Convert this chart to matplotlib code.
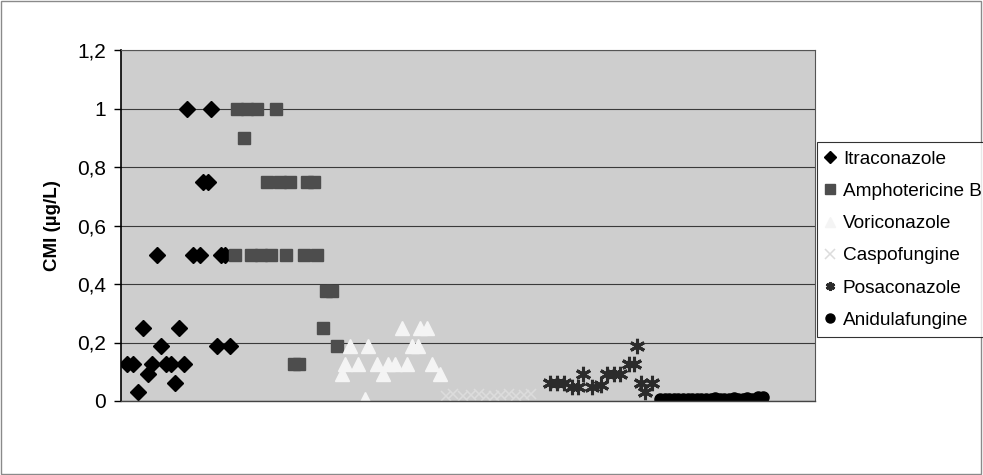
import numpy as np
import matplotlib
matplotlib.use("Agg")
import matplotlib.pyplot as plt
from matplotlib.patches import Rectangle

# numéro d'échantillon (position sur l'axe) et CMI
itra_x = [1.3, 2.6, 3.7, 4.8, 5.9, 6.7, 7.8, 8.7, 9.8, 10.9, 11.7, 12.6, 13.7, 14.3,
          15.7, 17.2, 17.8, 18.9, 19.6, 20.9, 21.7, 22.6, 23.7]
itra_y = [0.125, 0.125, 0.03125, 0.25, 0.09375, 0.125, 0.5, 0.1875, 0.125, 0.125, 0.0625,
          0.25, 0.125, 1.0, 0.5, 0.5, 0.75, 0.75, 1.0, 0.1875, 0.5, 0.5, 0.1875]

ampho_x = [24.8, 25.2, 26.7, 27.4, 28.3, 29.6, 30.4, 31.7, 32.6, 33.7, 34.6, 35.9, 36.7,
           37.6, 38.7, 39.8, 40.4, 42.0, 42.6, 43.9, 44.6, 45.9, 47.0]
ampho_y = [0.5, 1.0, 0.9, 1.0, 0.5, 1.0, 0.5, 0.75, 0.5, 1.0, 0.75, 0.5, 0.75,
           0.125, 0.125, 0.5, 0.75, 0.75, 0.5, 0.25, 0.375, 0.375, 0.1875]

vori_x = [48.0, 48.7, 49.8, 51.5, 53.0, 53.7, 55.7, 57.0, 58.0, 59.6, 61.1, 62.2, 63.3,
          64.6, 65.0, 66.5, 67.6, 69.3]
vori_y = [0.09375, 0.125, 0.1875, 0.125, 0.0078, 0.1875, 0.125, 0.09375, 0.125, 0.125,
          0.25, 0.125, 0.1875, 0.1875, 0.25, 0.25, 0.125, 0.09375]

caspo_x = [70.6, 72.1, 74.3, 76.1, 77.8, 79.3, 81.1, 82.6, 84.3, 85.8, 87.6, 89.1]
caspo_y = [0.0156, 0.0234, 0.0156, 0.0195, 0.0234, 0.0156, 0.0156, 0.0195, 0.0234,
           0.0156, 0.0195, 0.0234]

posa_x = [93.3, 94.8, 96.3, 98.0, 99.3, 100.4, 102.4, 104.3, 105.7, 107.2, 108.5, 110.4,
          111.5, 112.2, 113.0, 113.9, 115.4]
posa_y = [0.0625, 0.0625, 0.0625, 0.047, 0.047, 0.09375, 0.047, 0.055, 0.09375, 0.09375,
          0.09375, 0.125, 0.125, 0.1875, 0.0625, 0.03125, 0.0625]

anidu_x = [117.2, 118.2, 119.2, 120.2, 121.2, 122.2, 123.2, 124.2, 125.2, 126.2, 127.2,
           128.2, 129.2, 130.2, 131.2, 132.2, 133.2, 134.2, 135.2, 136.2, 137.2, 138.4, 139.6]
anidu_y = [0.008, 0.008, 0.008, 0.008, 0.008, 0.008, 0.008, 0.008, 0.008, 0.008, 0.008,
           0.008, 0.010, 0.008, 0.008, 0.008, 0.010, 0.008, 0.008, 0.010, 0.008, 0.012, 0.012]

yticks = [0, 0.2, 0.4, 0.6, 0.8, 1.0, 1.2]
ytick_labels = ["0", "0,2", "0,4", "0,6", "0,8", "1", "1,2"]

plt.rcParams['font.family'] = ['Liberation Sans', 'DejaVu Sans']

fig = plt.figure(figsize=(9.83, 4.75), dpi=100)
ax = fig.add_axes([121 / 983, 1 - 401 / 475, 694 / 983, 351 / 475])
ax.set_facecolor('#cecece')

ax.plot(itra_x, itra_y, 'D', color='black', ms=8.5, mec='black', label='Itraconazole')
ax.plot(ampho_x, ampho_y, 's', color='#4d4d4d', ms=8.5, mec='#4d4d4d', label='Amphotericine B')
ax.plot(vori_x, vori_y, '^', color='#f4f4f4', ms=10, mec='#f4f4f4', label='Voriconazole')
ax.plot(caspo_x, caspo_y, 'x', color='#dcdcdc', ms=7, mew=1.1, label='Caspofungine')
ax.plot(posa_x, posa_y, marker=(6, 2, 0), ls='none', color='#2b2b2b', ms=11, mew=2.2,
        label='Posaconazole')
ax.plot(anidu_x, anidu_y, 'o', color='black', ms=8, label='Anidulafungine')

ax.set_xlim(0, 150.9)
ax.set_ylim(0, 1.2)
ax.set_yticks(yticks)
ax.set_yticklabels(ytick_labels, fontsize=15)
ax.set_xticks([])
ax.tick_params(axis='y', direction='out', length=5, width=1, pad=6, colors='black')
ax.grid(axis='y', color='#3a3a3a', lw=0.8)
ax.set_axisbelow(True)

for s in ['top', 'right']:
    ax.spines[s].set_color('#555555')
    ax.spines[s].set_linewidth(0.8)
ax.spines['left'].set_color('black')
ax.spines['left'].set_linewidth(1.2)
ax.spines['bottom'].set_color('#444444')
ax.spines['bottom'].set_linewidth(1.0)

ax.set_ylabel('CMI (µg/L)', fontsize=13.5, fontweight='bold', labelpad=11)

leg = fig.legend(loc='upper left', bbox_to_anchor=(817 / 983, 1 - 142 / 475),
                 frameon=True, fancybox=False, fontsize=13.7, handlelength=0.46,
                 handletextpad=0.45, labelspacing=0.78, borderpad=0.45, borderaxespad=0)
leg.get_frame().set_edgecolor('black')
leg.get_frame().set_linewidth(0.8)
for h in leg.legend_handles:
    h.set_markersize(6.5)

# cadre autour de tout le graphique
fig.patches.append(Rectangle((0.001, 0.002), 0.997, 0.995, transform=fig.transFigure,
                             fill=False, edgecolor='#8a8a8a', lw=1))

fig.savefig('out.png', dpi=100)
